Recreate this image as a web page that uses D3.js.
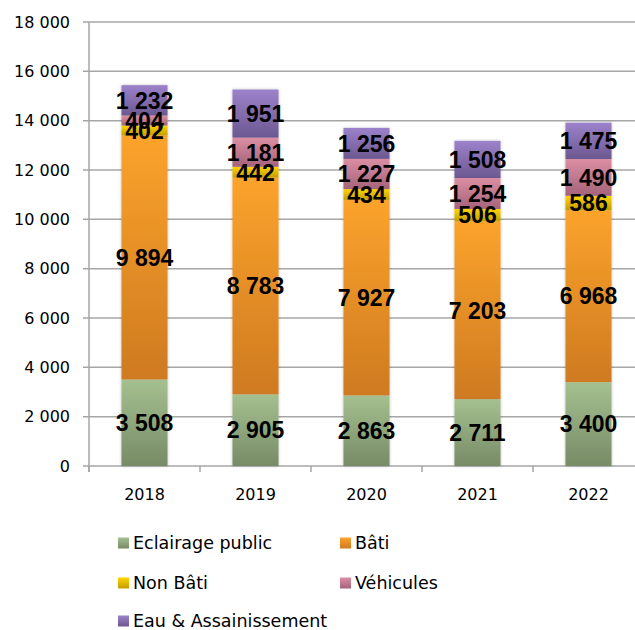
<!DOCTYPE html>
<html><head><meta charset="utf-8">
<script src="https://cdn.jsdelivr.net/npm/d3@7"></script>
<style>body{margin:0;background:#fff}svg{display:block}</style>
</head><body>
<svg id="c" width="635" height="630"></svg>
<script>
const years = ["2018","2019","2020","2021","2022"];
const seriesNames = ["Eclairage public","Bâti","Non Bâti","Véhicules","Eau & Assainissement"];
const eclairage = [3508, 2905, 2863, 2711, 3400];
const bati      = [9894, 8783, 7927, 7203, 6968];
const nonBati   = [402, 442, 434, 506, 586];
const vehicules = [404, 1181, 1227, 1254, 1490];
const eau       = [1232, 1951, 1256, 1508, 1475];
const yTicks = [0,2000,4000,6000,8000,10000,12000,14000,16000,18000];
const colorsTop    = ["#a5c090","#fba32c","#ffd400","#dc8ea3","#9c82cb"];
const colorsBottom = ["#778b66","#cf7a21","#c49d00","#a4637a","#6c5890"];

const table = years.map((y,i)=>({year:y, "Eclairage public":eclairage[i], "Bâti":bati[i], "Non Bâti":nonBati[i], "Véhicules":vehicules[i], "Eau & Assainissement":eau[i]}));
const stack = d3.stack().keys(seriesNames)(table);

const svg = d3.select("#c");
const x = d3.scaleBand().domain(years).range([89,644]).paddingInner(0.585).paddingOuter(0.2925);
const y = d3.scaleLinear().domain([0,18000]).range([466,22]);
const fmt = v => d3.format(",")(v).replace(/,/g," ");
const axisFont = "DejaVu Sans, Liberation Sans, sans-serif";

const defs = svg.append("defs");
seriesNames.forEach((s,i)=>{
  const g = defs.append("linearGradient").attr("id","g"+i).attr("x1",0).attr("y1",0).attr("x2",0).attr("y2",1);
  g.append("stop").attr("offset","0%").attr("stop-color",colorsTop[i]);
  g.append("stop").attr("offset","100%").attr("stop-color",colorsBottom[i]);
});
const f = defs.append("filter").attr("id","sh").attr("x","-20%").attr("y","-5%").attr("width","140%").attr("height","110%");
f.append("feDropShadow").attr("dx",0).attr("dy",0).attr("stdDeviation",1.5).attr("flood-color","#000").attr("flood-opacity",0.25);

// gridlines
svg.append("g").selectAll("line").data(yTicks).join("line")
  .attr("x1",83).attr("x2",635).attr("y1",d=>y(d)).attr("y2",d=>y(d))
  .attr("stroke","#a6a6a6").attr("stroke-width",1.5);
// y axis line
svg.append("line").attr("x1",89).attr("x2",89).attr("y1",y(18000)).attr("y2",y(0)+6).attr("stroke","#a6a6a6").attr("stroke-width",1.5);
// x ticks
svg.append("g").selectAll("line").data(d3.range(years.length+1)).join("line")
  .attr("x1",i=>89+i*x.step()).attr("x2",i=>89+i*x.step()).attr("y1",y(0)).attr("y2",y(0)+6)
  .attr("stroke","#a6a6a6").attr("stroke-width",1.5);
// y labels
svg.append("g").selectAll("text").data(yTicks).join("text")
  .attr("x",70).attr("y",d=>y(d)).attr("dy","0.36em").attr("text-anchor","end")
  .attr("font-family",axisFont).attr("font-size",16).attr("fill","#000")
  .text(fmt);
// x labels
svg.append("g").selectAll("text").data(years).join("text")
  .attr("x",d=>x(d)+x.bandwidth()/2).attr("y",500).attr("text-anchor","middle")
  .attr("font-family",axisFont).attr("font-size",16).attr("fill","#000")
  .text(d=>d);

// bars
const bars = svg.append("g").attr("filter","url(#sh)");
stack.forEach((layer,i)=>{
  bars.append("g").selectAll("rect").data(layer).join("rect")
    .attr("x",d=>x(d.data.year)).attr("width",x.bandwidth())
    .attr("y",d=>y(d[1])).attr("height",d=>y(d[0])-y(d[1]))
    .attr("fill","url(#g"+i+")");
});
// labels
stack.forEach((layer,i)=>{
  svg.append("g").selectAll("text").data(layer).join("text")
    .attr("x",d=>x(d.data.year)+x.bandwidth()/2).attr("y",d=>y((d[0]+d[1])/2)).attr("dy","0.36em")
    .attr("text-anchor","middle").attr("font-family","Liberation Sans, Arial, sans-serif")
    .attr("font-weight","bold").attr("font-size",23).attr("fill","#000")
    .text(d=>fmt(d[1]-d[0]));
});

// legend
const legPos = [[118,543],[340,543],[118,583],[340,583],[118,621]];
const leg = svg.append("g");
seriesNames.forEach((s,i)=>{
  const [lx,ly] = legPos[i];
  leg.append("rect").attr("x",lx).attr("y",ly-5.5).attr("width",11).attr("height",11).attr("fill","url(#g"+i+")");
  leg.append("text").attr("x",lx+15).attr("y",ly).attr("dy","0.36em")
    .attr("font-family",axisFont).attr("font-size",17.5).attr("fill","#000").text(s);
});
</script>
</body></html>
